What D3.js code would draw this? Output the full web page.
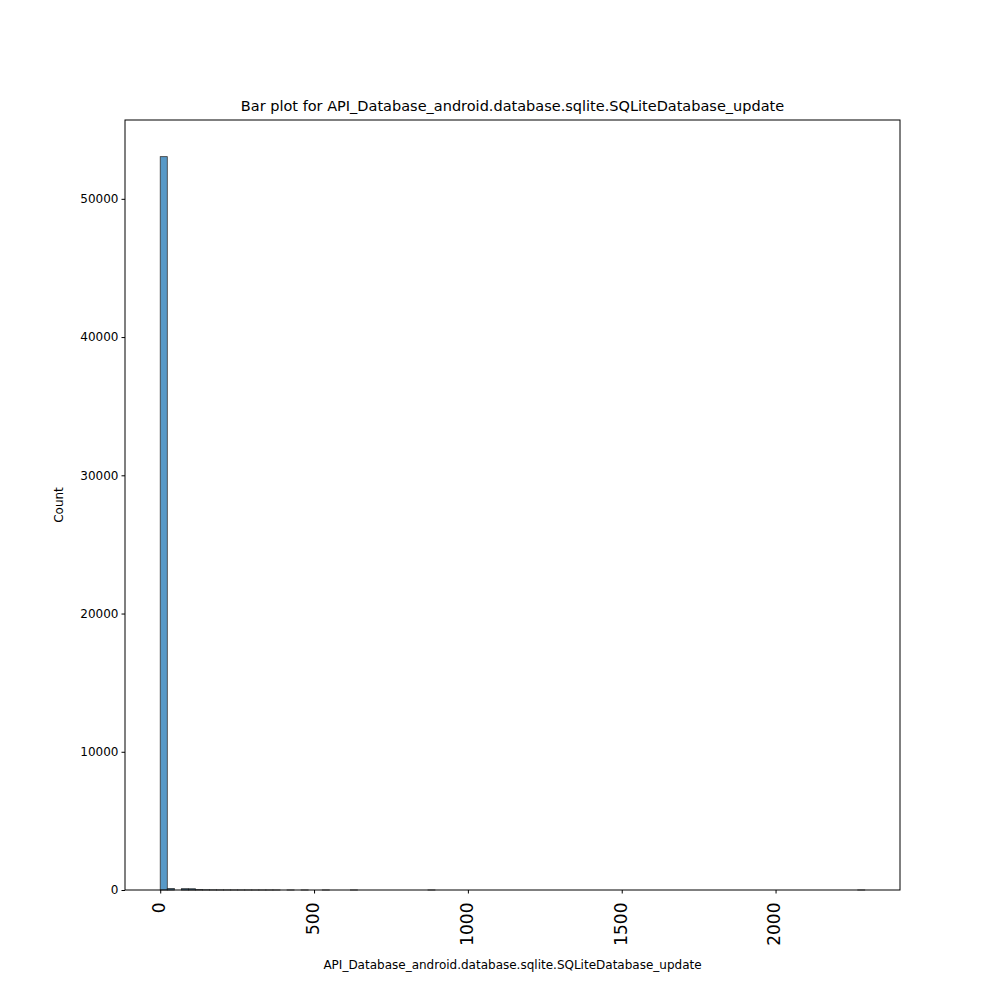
<!DOCTYPE html>
<html><head><meta charset="utf-8">
<script src="https://cdn.jsdelivr.net/npm/d3@7"></script>
<style>body{margin:0;background:#fff}text{font-family:"DejaVu Sans",sans-serif}</style>
</head><body><svg id="c" width="1000" height="1000"></svg>
<script>
const binStart = 0, binWidth = 22.9;
const counts = [53050,110,0,95,90,25,12,8,5,4,3,2,2,1,1,1,1,0,1,0,1,0,0,1,0,0,0,1,0,0,0,0,0,0,0,0,0,0,1,0,0,0,0,0,0,0,0,0,0,0,0,0,0,0,0,0,0,0,0,0,0,0,0,0,0,0,0,0,0,0,0,0,0,0,0,0,0,0,0,0,0,0,0,0,0,0,0,0,0,0,0,0,0,0,0,0,0,0,0,1];
const xTicks = [0,500,1000,1500,2000];
const yTicks = [0,10000,20000,30000,40000,50000];
const title = "Bar plot for API_Database_android.database.sqlite.SQLiteDatabase_update";
const xLabel = "API_Database_android.database.sqlite.SQLiteDatabase_update";
const yLabel = "Count";

const svg = d3.select("#c");
const L=125,R=900,T=120,B=890;
const xmax = binStart + binWidth*counts.length;
const xm = (xmax-binStart)*0.05;
const x = d3.scaleLinear().domain([binStart-xm, xmax+xm]).range([L,R]);
const ymax = d3.max(counts)*1.05;
const y = d3.scaleLinear().domain([0,ymax]).range([B,T]);

svg.append("g").selectAll("rect").data(counts).join("rect")
 .attr("x",(d,i)=>x(binStart+i*binWidth)).attr("width",(d,i)=>x(binStart+(i+1)*binWidth)-x(binStart+i*binWidth))
 .attr("y",d=>y(d)).attr("height",d=>B-y(d))
 .attr("fill","rgba(31,119,180,0.75)").attr("stroke",d=>d>0?"#333":"none").attr("stroke-width",0.8);

const xa = svg.append("g").attr("transform",`translate(0,${B})`).call(d3.axisBottom(x).tickValues(xTicks).tickSize(3.5).tickSizeOuter(0).tickFormat(d3.format("d")));
xa.selectAll("text").attr("font-size",17).attr("transform","rotate(-90)").attr("text-anchor","end").attr("dx","-0.5em").attr("dy","-0.1em").attr("y",0).attr("x",-4).style("dominant-baseline","central");
const ya = svg.append("g").attr("transform",`translate(${L},0)`).call(d3.axisLeft(y).tickValues(yTicks).tickSize(3.5).tickSizeOuter(0).tickFormat(d3.format("d")));
ya.selectAll("text").attr("font-size",12).attr("fill","#000");
svg.selectAll(".domain").remove();
svg.append("rect").attr("x",L).attr("y",T).attr("width",R-L).attr("height",B-T).attr("fill","none").attr("stroke","#000").attr("stroke-width",1);
svg.append("text").attr("x",(L+R)/2).attr("y",T-9).attr("text-anchor","middle").attr("font-size",14.5).text(title);
svg.append("text").attr("x",(L+R)/2).attr("y",969).attr("text-anchor","middle").attr("font-size",12).text(xLabel);
svg.append("text").attr("transform",`translate(63,${(T+B)/2}) rotate(-90)`).attr("text-anchor","middle").attr("font-size",12).text(yLabel);
</script></body></html>
